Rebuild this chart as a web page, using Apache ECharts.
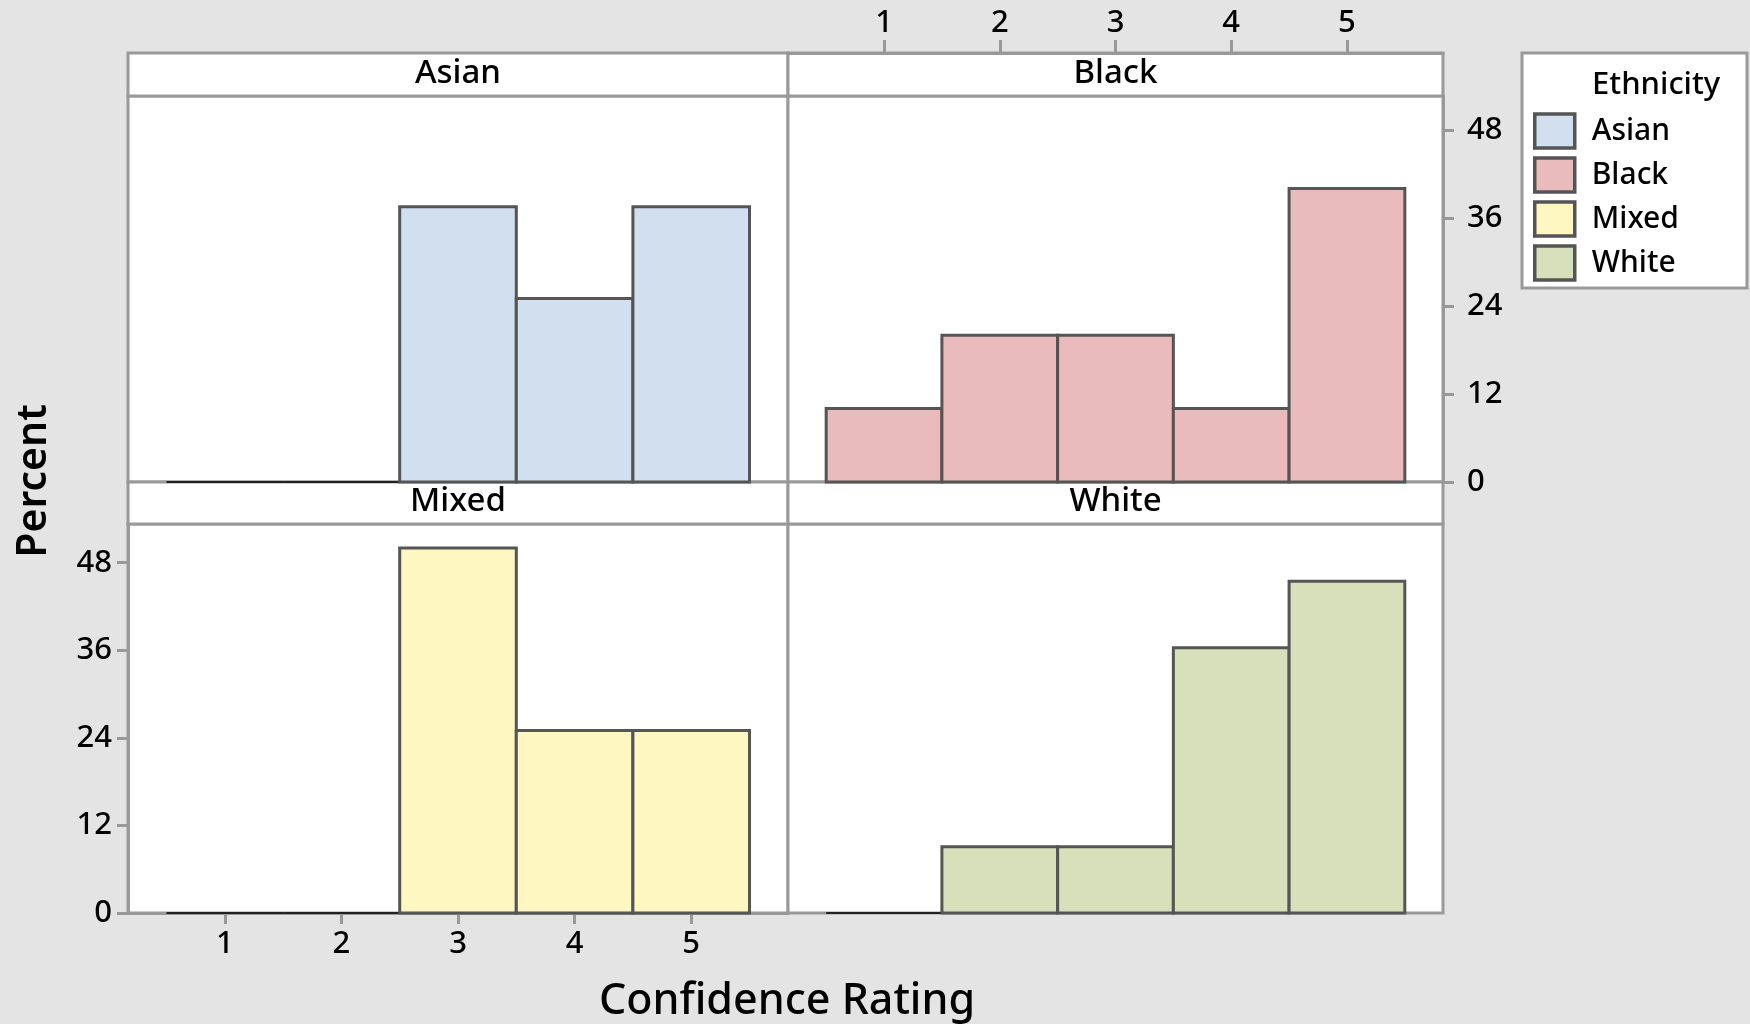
<!DOCTYPE html>
<html>
<head>
<meta charset="utf-8">
<title>Confidence Rating by Ethnicity</title>
<script src="https://cdn.jsdelivr.net/npm/echarts@6/dist/echarts.min.js"></script>
<style>
  html, body { margin: 0; padding: 0; background: #e4e4e4; }
  #main { width: 1750px; height: 1024px; }
</style>
</head>
<body>
<div id="main"></div>
<script>
// histogram data, percent of each group per rating
var ratings = [1, 2, 3, 4, 5];
var groups = ['Asian', 'Black', 'Mixed', 'White'];
var asian = [0, 0, 37.5, 25, 37.5];
var black = [10, 20, 20, 10, 40];
var mixed = [0, 0, 50, 25, 25];
var white = [0, 9.09, 9.09, 36.36, 45.45];
var percentTicks = [0, 12, 24, 36, 48];
var ratingTicks = [1, 2, 3, 4, 5];

var fills = ['#d1dfee', '#eabbbc', '#fef7c1', '#d8e0bb'];
var values = [asian, black, mixed, white];

var FONT = '"Noto Sans", "Open Sans", sans-serif';
var FRAME = '#999999';

var myChart = echarts.init(document.getElementById('main'));

// bins go from rating-0.5 to rating+0.5
function toBins(vals) {
  var out = [];
  for (var i = 0; i < ratings.length; i++) {
    out.push([ratings[i] - 0.5, ratings[i] + 0.5, vals[i]]);
  }
  return out;
}

function renderBin(params, api) {
  var lo = api.coord([api.value(0), 0]);
  var hi = api.coord([api.value(1), api.value(2)]);
  var isZero = api.value(2) === 0;
  return {
    type: 'rect',
    shape: { x: lo[0], y: hi[1], width: hi[0] - lo[0], height: lo[1] - hi[1] },
    style: {
      fill: fills[params.seriesIndex],
      stroke: isZero ? '#222' : '#555',
      lineWidth: isZero ? 2 : 3
    }
  };
}

// panel boxes: asian, black, mixed, white
var grids = [
  { left: 128, top: 96, width: 660, height: 386 },
  { left: 788, top: 96, width: 655, height: 386 },
  { left: 128, top: 524, width: 660, height: 389 },
  { left: 788, top: 524, width: 655, height: 389 }
];
grids.forEach(function (g) {
  g.show = true;
  g.backgroundColor = '#fff';
  g.borderColor = FRAME;
  g.borderWidth = 3;
  g.containLabel = false;
});

var yMax = [52.6, 52.6, 53.3, 53.3];

var xAxes = [], yAxes = [], series = [];
for (var i = 0; i < 4; i++) {
  var showTopX = i === 1, showBottomX = i === 2;
  var showRightY = i === 1, showLeftY = i === 2;
  xAxes.push({
    type: 'value',
    gridIndex: i,
    min: 0.17,
    max: 5.83,
    z: 20,
    position: showTopX ? 'top' : 'bottom',
    offset: showTopX ? 43 : 0,
    axisLine: { show: showTopX || showBottomX, onZero: false, lineStyle: { color: FRAME, width: 3 } },
    axisTick: {
      show: showTopX || showBottomX,
      customValues: ratingTicks,
      length: showTopX ? 13 : 11,
      lineStyle: { color: FRAME, width: 3 }
    },
    axisLabel: {
      show: showTopX || showBottomX,
      customValues: ratingTicks,
      margin: showTopX ? 14 : 16,
      color: '#000',
      fontFamily: FONT,
      fontWeight: 500,
      fontSize: 31
    },
    splitLine: { show: false }
  });
  yAxes.push({
    type: 'value',
    gridIndex: i,
    min: 0,
    max: yMax[i],
    z: 20,
    position: showRightY ? 'right' : 'left',
    axisLine: { show: showRightY || showLeftY, onZero: false, lineStyle: { color: FRAME, width: 3 } },
    axisTick: {
      show: showRightY || showLeftY,
      customValues: percentTicks,
      length: 11,
      lineStyle: { color: FRAME, width: 3 }
    },
    axisLabel: {
      show: showRightY || showLeftY,
      customValues: percentTicks,
      margin: showRightY ? 24 : 16,
      color: '#000',
      fontFamily: FONT,
      fontWeight: 500,
      fontSize: 31
    },
    splitLine: { show: false }
  });
  series.push({
    type: 'custom',
    name: groups[i],
    xAxisIndex: i,
    yAxisIndex: i,
    renderItem: renderBin,
    itemStyle: { color: fills[i], borderColor: '#555', borderWidth: 3 },
    encode: { x: [0, 1], y: 2 },
    data: toBins(values[i]),
    z: 30
  });
}

// strip headers above each panel
function strip(x, y, w, h, label) {
  return {
    type: 'group',
    z: 10,
    children: [
      {
        type: 'rect',
        shape: { x: x, y: y, width: w, height: h },
        style: { fill: '#fff', stroke: FRAME, lineWidth: 3 }
      },
      {
        type: 'text',
        x: x + w / 2,
        y: y + h / 2 - 1,
        style: {
          text: label, fill: '#000', font: '500 33px ' + FONT,
          align: 'center', verticalAlign: 'middle'
        }
      }
    ]
  };
}

myChart.setOption({
  animation: false,
  backgroundColor: '#e4e4e4',
  grid: grids,
  xAxis: xAxes,
  yAxis: yAxes,
  series: series,
  legend: {
    orient: 'vertical',
    left: 1533,
    top: 112,
    padding: 0,
    itemWidth: 40,
    itemHeight: 34,
    itemGap: 6,
    icon: 'rect',
    selectedMode: false,
    itemStyle: { borderColor: '#555', borderWidth: 3.5 },
    textStyle: {
      fontFamily: FONT, fontWeight: 500, fontSize: 30, color: '#000',
      lineHeight: 34, padding: [0, 0, 4, 12]
    },
    data: groups
  },
  graphic: [
    strip(128, 53, 660, 43, 'Asian'),
    strip(788, 53, 655, 43, 'Black'),
    strip(128, 482, 660, 42, 'Mixed'),
    strip(788, 482, 655, 42, 'White'),
    {
      type: 'rect',
      z: 1,
      shape: { x: 1522, y: 53, width: 225, height: 235 },
      style: { fill: '#fff', stroke: FRAME, lineWidth: 3 }
    },
    {
      type: 'text',
      z: 2,
      x: 1592,
      y: 85,
      style: { text: 'Ethnicity', fill: '#000', font: '500 31px ' + FONT, verticalAlign: 'middle' }
    },
    {
      type: 'text',
      x: 787,
      y: 1002,
      style: {
        text: 'Confidence Rating', fill: '#000', font: '500 43px ' + FONT,
        align: 'center', verticalAlign: 'middle'
      }
    },
    {
      type: 'text',
      x: 34,
      y: 481,
      rotation: Math.PI / 2,
      style: {
        text: 'Percent', fill: '#000', font: '600 41px ' + FONT,
        align: 'center', verticalAlign: 'middle'
      }
    }
  ]
});
</script>
</body>
</html>
